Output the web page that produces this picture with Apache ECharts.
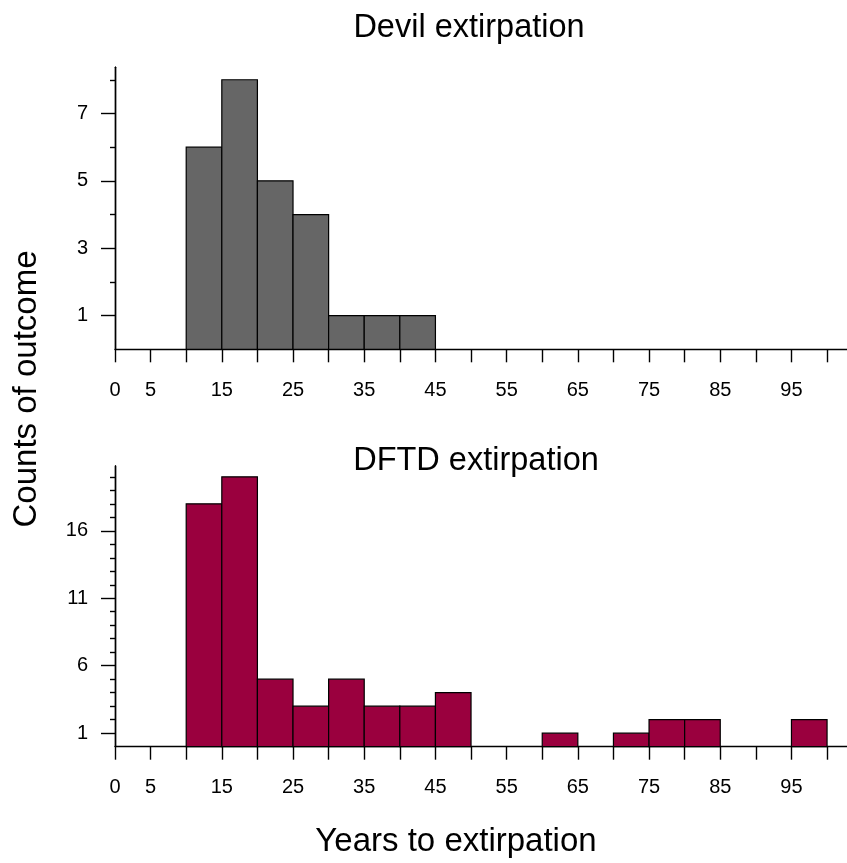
<!DOCTYPE html>
<html>
<head>
<meta charset="utf-8">
<script src="https://cdn.jsdelivr.net/npm/echarts@6/dist/echarts.min.js"></script>
<style>
html,body{margin:0;padding:0;background:#fff;}
#chart{width:847px;height:863px;}
</style>
</head>
<body>
<div id="chart"></div>
<script>
// ---- data ----
var binStarts = [10,15,20,25,30,35,40,45,50,55,60,65,70,75,80,85,90,95];
var binWidth = 5;
var devilCounts = [6,8,5,4,1,1,1,0,0,0,0,0,0,0,0,0,0,0];
var dftdCounts  = [18,20,5,3,5,3,3,4,0,0,1,0,1,2,2,0,0,2];
var xTickValues = [0,5,10,15,20,25,30,35,40,45,50,55,60,65,70,75,80,85,90,95,100];
var xLabelValues = [0,5,15,25,35,45,55,65,75,85,95];
var devilMajorTicks = [1,3,5,7];
var devilMinorTicks = [2,4,6,8];
var dftdMajorTicks = [1,6,11,16];
var dftdMinorTicks = [2,3,4,5,7,8,9,10,12,13,14,15,17,18,19,20];
var titles = ['Devil extirpation','DFTD extirpation'];
var xName = 'Years to extirpation';
var yName = 'Counts of outcome';

function toBins(counts){
  var out = [];
  for (var i=0;i<binStarts.length;i++){
    if (counts[i] > 0) out.push([binStarts[i], binStarts[i]+binWidth, counts[i]]);
  }
  return out;
}

var FONT = 'Liberation Sans, Arial, sans-serif';
var LABEL_SIZE = 20;

function makeRender(color){
  return function(params, api){
    var x0 = api.value(0), x1 = api.value(1), y = api.value(2);
    var p0 = api.coord([x0, y]);
    var p1 = api.coord([x1, 0]);
    return {
      type:'rect',
      shape:{x:p0[0], y:p0[1], width:p1[0]-p0[0], height:p1[1]-p0[1]},
      style:{fill:color, stroke:'#000', lineWidth:1.2}
    };
  };
}

function labelStyle(show, values, margin){
  return {show:show, customValues:values, margin:margin, color:'#000',
          fontSize:LABEL_SIZE, fontFamily:FONT};
}

function xAxisCfg(gi){
  return {
    type:'value', gridIndex:gi, min:0, max:102.8,
    axisLine:{show:true, onZero:false, lineStyle:{color:'#000', width:1.4}},
    axisTick:{show:true, customValues:xTickValues, length:13, lineStyle:{color:'#000', width:1.4}},
    axisLabel:labelStyle(true, xLabelValues, 31),
    splitLine:{show:false}
  };
}
function yAxisCfg(gi, max, ticks, len, labels){
  return {
    type:'value', gridIndex:gi, min:0, max:max, position:'left',
    axisLine:{show:true, onZero:false, lineStyle:{color:'#000', width:1.4}},
    axisTick:{show:true, customValues:ticks, length:len, lineStyle:{color:'#000', width:1.4}},
    axisLabel:labelStyle(labels, ticks, 27),
    splitLine:{show:false}
  };
}

var chart = echarts.init(document.getElementById('chart'), null, {renderer:'canvas'});
chart.setOption({
  animation:false,
  backgroundColor:'#fff',
  textStyle:{fontFamily:FONT},
  grid:[
    {left:115, top:67.3, width:732, height:282},
    {left:115, top:466, width:732, height:280.7}
  ],
  xAxis:[xAxisCfg(0), xAxisCfg(1)],
  yAxis:[
    yAxisCfg(0, 8.37, devilMajorTicks, 14, true),
    yAxisCfg(0, 8.37, devilMinorTicks, 5, false),
    yAxisCfg(1, 20.8, dftdMajorTicks, 14, true),
    yAxisCfg(1, 20.8, dftdMinorTicks, 5, false)
  ],
  series:[
    {type:'custom', xAxisIndex:0, yAxisIndex:0, renderItem:makeRender('#666666'), data:toBins(devilCounts), z:1},
    {type:'custom', xAxisIndex:1, yAxisIndex:2, renderItem:makeRender('#9A003E'), data:toBins(dftdCounts), z:1}
  ],
  graphic:[
    {type:'text', x:469, y:28, style:{text:titles[0], fill:'#000', font:'32.5px '+FONT, textAlign:'center', textVerticalAlign:'middle'}},
    {type:'text', x:476, y:461.5, style:{text:titles[1], fill:'#000', font:'32.5px '+FONT, textAlign:'center', textVerticalAlign:'middle'}},
    {type:'text', x:456, y:842, style:{text:xName, fill:'#000', font:'33px '+FONT, textAlign:'center', textVerticalAlign:'middle'}},
    {type:'text', x:27, y:389, rotation:Math.PI/2, style:{text:yName, fill:'#000', font:'33px '+FONT, textAlign:'center', textVerticalAlign:'middle'}}
  ]
});
</script>
</body>
</html>
